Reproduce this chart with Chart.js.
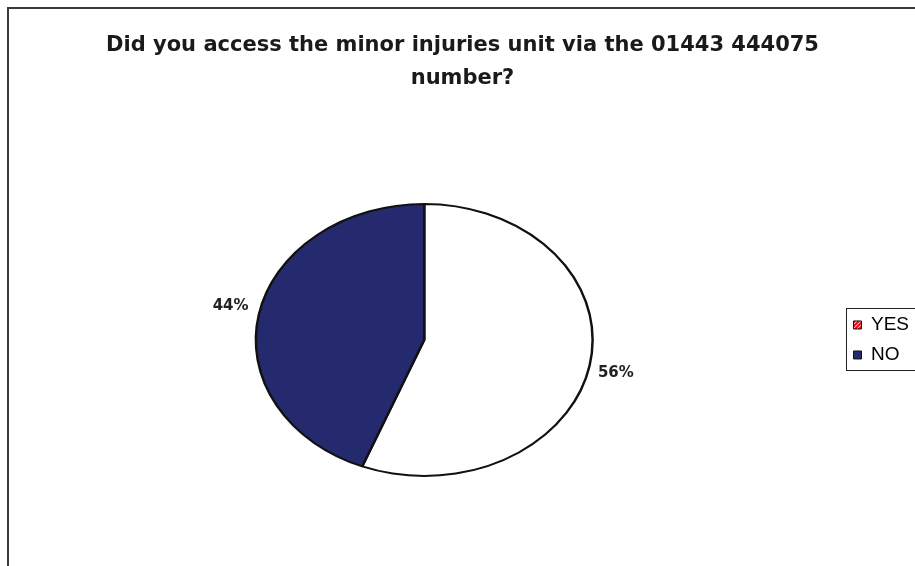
<!DOCTYPE html>
<html>
<head>
<meta charset="utf-8">
<script src="https://cdn.jsdelivr.net/npm/chart.js@4"></script>
<style>
html,body{margin:0;padding:0;background:#fff;}
canvas{display:block;}
</style>
</head>
<body>
<canvas id="c" width="915" height="566"></canvas>
<script>
const titleLines = ['Did you access the minor injuries unit via the 01443 444075', 'number?'];
const categories = ['YES', 'NO'];
const values = [56, 44];
const sliceColors = ['#ffffff', '#25296e'];

const SX = 1.238; // horizontal stretch of the pie (elliptical look)

function yesPattern() {
  const p = document.createElement('canvas');
  p.width = 4; p.height = 4;
  const g = p.getContext('2d');
  g.fillStyle = '#ffffff'; g.fillRect(0, 0, 4, 4);
  g.strokeStyle = '#e3101c'; g.lineWidth = 2.2;
  g.beginPath(); g.moveTo(-1, 1); g.lineTo(1, -1); g.moveTo(0, 4); g.lineTo(4, 0); g.moveTo(3, 5); g.lineTo(5, 3); g.stroke();
  return document.getElementById('c').getContext('2d').createPattern(p, 'repeat');
}

const stretchPlugin = {
  id: 'stretch',
  beforeDatasetsDraw(chart) {
    const arc = chart.getDatasetMeta(0).data[0];
    const ctx = chart.ctx;
    ctx.save();
    ctx.translate(arc.x, arc.y);
    ctx.scale(SX, 1);
    ctx.translate(-arc.x, -arc.y);
  },
  afterDatasetsDraw(chart) {
    const ctx = chart.ctx;
    ctx.restore();
    const meta = chart.getDatasetMeta(0);
    const total = values.reduce((a, b) => a + b, 0);
    ctx.save();
    ctx.font = 'bold 15px "DejaVu Sans"';
    ctx.fillStyle = '#222';
    ctx.textBaseline = 'middle';
    meta.data.forEach((arc, i) => {
      const mid = (arc.startAngle + arc.endAngle) / 2;
      const r = arc.outerRadius * 1.05;
      const px = arc.x + Math.cos(mid) * r * SX;
      const py = arc.y + Math.sin(mid) * r * 1.25;
      ctx.textAlign = Math.cos(mid) < 0 ? 'right' : 'left';
      ctx.fillText(Math.round(values[i] / total * 100) + '%', px + (Math.cos(mid) < 0 ? -2 : 0), py);
    });
    ctx.restore();
  },
  afterDraw(chart) {
    const ctx = chart.ctx;
    ctx.save();
    ctx.strokeStyle = '#3a3a3a';
    ctx.lineWidth = 2;
    ctx.strokeRect(8, 8, 1000, 700);
    const hb = chart.legend.legendHitBoxes;
    if (hb && hb.length) {
      ctx.lineWidth = 1;
      ctx.strokeStyle = '#222';
      const top = hb[0].top - 7;
      const bottom = hb[hb.length - 1].top + hb[hb.length - 1].height + 6;
      ctx.strokeRect(846.5, Math.round(top) + 0.5, 200, Math.round(bottom - top));
    }
    ctx.restore();
  }
};

const pat = yesPattern();

new Chart(document.getElementById('c'), {
  type: 'pie',
  data: {
    labels: categories,
    datasets: [{
      data: values,
      backgroundColor: sliceColors,
      borderColor: '#111',
      borderWidth: 2
    }]
  },
  options: {
    responsive: false,
    animation: false,
    radius: 136,
    layout: { padding: { left: 6, right: -4, top: 0, bottom: 0 } },
    plugins: {
      title: {
        display: true,
        text: titleLines,
        color: '#1a1a1a',
        font: { family: '"DejaVu Sans"', weight: 'bold', size: 21, lineHeight: 1.57 },
        padding: { top: 29, bottom: 19 }
      },
      legend: {
        display: true,
        position: 'right',
        fullSize: false,
        labels: {
          color: '#111',
          font: { family: '"Liberation Sans"', size: 19 },
          boxWidth: 8,
          boxHeight: 8,
          padding: 11,
          generateLabels(chart) {
            return categories.map((c, i) => ({
              text: c,
              fillStyle: i === 0 ? pat : sliceColors[i],
              strokeStyle: '#111',
              lineWidth: 1,
              index: i,
              hidden: false
            }));
          }
        }
      },
      tooltip: { enabled: false }
    }
  },
  plugins: [stretchPlugin]
});
</script>
</body>
</html>
